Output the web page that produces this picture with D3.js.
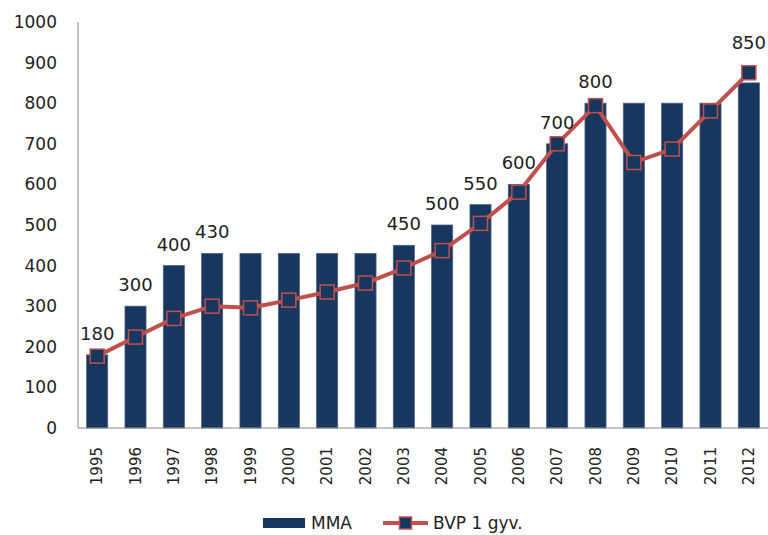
<!DOCTYPE html>
<html>
<head>
<meta charset="utf-8">
<script src="https://cdn.jsdelivr.net/npm/d3@7"></script>
<style>
  body { margin: 0; background: #fff; }
  svg { font-family: "DejaVu Sans", Verdana, sans-serif; }
</style>
</head>
<body>
<svg id="chart" width="768" height="535"></svg>
<script>
// duomenys
var years = ["1995","1996","1997","1998","1999","2000","2001","2002","2003","2004","2005","2006","2007","2008","2009","2010","2011","2012"];
var mma = [180,300,400,430,430,430,430,430,450,500,550,600,700,800,800,800,800,850];
var bvp = [177,224,270,300,296,315,335,357,394,437,504,581,700,794,654,687,781,875];
var labelYears = ["1995","1996","1997","1998","2003","2004","2005","2006","2007","2008","2012"];
var yTicks = [0,100,200,300,400,500,600,700,800,900,1000];

var plot = {left: 78, right: 768, top: 22, bottom: 428};
var svg = d3.select("#chart");

var x = d3.scalePoint().domain(years).range([plot.left, plot.right]).padding(0.5);
var y = d3.scaleLinear().domain([0, 1000]).range([plot.bottom, plot.top]);
var barW = x.step() * 0.55;

// y axis labels
svg.append("g")
    .selectAll("text")
    .data(yTicks)
    .enter().append("text")
    .attr("x", 57)
    .attr("y", function(d) { return y(d); })
    .attr("dy", "0.35em")
    .attr("text-anchor", "end")
    .attr("font-size", 17)
    .attr("fill", "#222")
    .text(function(d) { return d; });

// bars
svg.append("g")
    .selectAll("rect")
    .data(mma)
    .enter().append("rect")
    .attr("x", function(d, i) { return x(years[i]) - barW / 2; })
    .attr("y", function(d) { return y(d); })
    .attr("width", barW)
    .attr("height", function(d) { return plot.bottom - y(d); })
    .attr("fill", "#17375e")
    .attr("stroke", "#4a6385")
    .attr("stroke-width", 0.8);

// axes lines
svg.append("line")
    .attr("x1", plot.left).attr("x2", plot.left)
    .attr("y1", plot.top).attr("y2", plot.bottom)
    .attr("stroke", "#888").attr("stroke-width", 1);
svg.append("line")
    .attr("x1", plot.left).attr("x2", plot.right)
    .attr("y1", plot.bottom).attr("y2", plot.bottom)
    .attr("stroke", "#888").attr("stroke-width", 1);

// line
var line = d3.line()
    .x(function(d, i) { return x(years[i]); })
    .y(function(d) { return y(d); });

svg.append("path")
    .datum(bvp)
    .attr("d", line)
    .attr("fill", "none")
    .attr("stroke", "#c0504d")
    .attr("stroke-width", 4)
    .attr("stroke-linejoin", "round");

var m = 14;
svg.append("g")
    .selectAll("rect")
    .data(bvp)
    .enter().append("rect")
    .attr("x", function(d, i) { return x(years[i]) - m / 2; })
    .attr("y", function(d) { return y(d) - m / 2; })
    .attr("width", m).attr("height", m)
    .attr("fill", "#17375e")
    .attr("stroke", "#c0504d")
    .attr("stroke-width", 1.5);

// bar value labels (lifted above the marker when the marker sits above the bar)
function labelY(d) {
    var i = years.indexOf(d);
    var top = y(mma[i]);
    if (bvp[i] > mma[i] + 15) top = y(bvp[i]) - m / 2 - 2;
    return top - 15;
}
svg.append("g")
    .selectAll("text")
    .data(labelYears)
    .enter().append("text")
    .attr("x", function(d) { return x(d); })
    .attr("y", labelY)
    .attr("text-anchor", "middle")
    .attr("font-size", 18)
    .attr("fill", "#222")
    .text(function(d) { return mma[years.indexOf(d)]; });

// x labels
svg.append("g")
    .selectAll("text")
    .data(years)
    .enter().append("text")
    .attr("transform", function(d) { return "translate(" + x(d) + "," + 447 + ") rotate(-90)"; })
    .attr("dy", "0.35em")
    .attr("text-anchor", "end")
    .attr("font-size", 15)
    .attr("fill", "#222")
    .text(function(d) { return d; });

// legend
var lg = svg.append("g").attr("transform", "translate(263,523)");
lg.append("rect").attr("x", 0).attr("y", -5).attr("width", 42).attr("height", 10).attr("fill", "#17375e");
lg.append("text").attr("x", 48).attr("y", 0).attr("dy", "0.35em").attr("font-size", 17).attr("fill", "#222").text("MMA");
lg.append("line").attr("x1", 120).attr("x2", 165).attr("y1", 0).attr("y2", 0).attr("stroke", "#c0504d").attr("stroke-width", 4);
lg.append("rect").attr("x", 142.5 - 6).attr("y", -6).attr("width", 12).attr("height", 12).attr("fill", "#17375e").attr("stroke", "#c0504d").attr("stroke-width", 1.5);
lg.append("text").attr("x", 170).attr("y", 0).attr("dy", "0.35em").attr("font-size", 17).attr("fill", "#222").text("BVP 1 gyv.");
</script>
</body>
</html>
